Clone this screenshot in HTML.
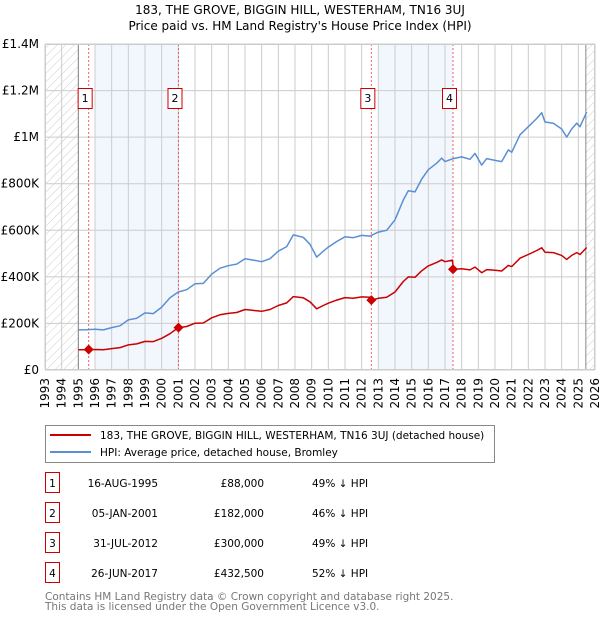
<!DOCTYPE html>
<html><head><meta charset="utf-8"><style>
body{margin:0;background:#fff;width:600px;height:620px;overflow:hidden}
svg text{font-family:"DejaVu Sans","Liberation Sans",sans-serif}
</style></head><body>
<svg id="c" width="600" height="620" xmlns="http://www.w3.org/2000/svg">
<defs><pattern id="hatch" width="6" height="6" patternUnits="userSpaceOnUse" patternTransform="rotate(45)"><line x1="0" y1="0" x2="0" y2="6" stroke="#ccc" stroke-width="1"/></pattern></defs>
<text x="300" y="14" text-anchor="middle" font-size="12">183, THE GROVE, BIGGIN HILL, WESTERHAM, TN16 3UJ</text>
<text x="300" y="30" text-anchor="middle" font-size="12">Price paid vs. HM Land Registry's House Price Index (HPI)</text>
<g id="plot"></g>
<g>
<rect x="45.5" y="425.5" width="449" height="37" fill="#fff" stroke="#888"/>
<line x1="50" y1="435" x2="91" y2="435" stroke="#cc0000" stroke-width="2"/>
<text x="100" y="439" font-size="10.5">183, THE GROVE, BIGGIN HILL, WESTERHAM, TN16 3UJ (detached house)</text>
<line x1="50" y1="452" x2="91" y2="452" stroke="#5b8fd4" stroke-width="2"/>
<text x="100" y="456" font-size="10.5">HPI: Average price, detached house, Bromley</text>
</g>
<g id="table" font-size="10.5"></g>
<text x="45" y="600" font-size="10.5" fill="#777">Contains HM Land Registry data © Crown copyright and database right 2025.</text>
<text x="45" y="610" font-size="10.5" fill="#777">This data is licensed under the Open Government Licence v3.0.</text>
</svg>
<script>
const hpiYears=[1995.0,1995.5,1996.0,1996.5,1997.0,1997.5,1998.0,1998.5,1999.0,1999.5,2000.0,2000.5,2001.0,2001.5,2002.0,2002.5,2003.0,2003.5,2004.0,2004.5,2005.0,2005.5,2006.0,2006.5,2007.0,2007.5,2007.9,2008.5,2008.9,2009.3,2009.7,2010.0,2010.5,2011.0,2011.5,2012.0,2012.5,2013.0,2013.5,2014.0,2014.5,2014.8,2015.2,2015.6,2016.0,2016.5,2016.8,2017.0,2017.5,2018.0,2018.5,2018.8,2019.2,2019.5,2020.0,2020.4,2020.8,2021.0,2021.5,2022.0,2022.5,2022.8,2023.0,2023.5,2024.0,2024.3,2024.6,2024.9,2025.1,2025.5];
const hpiValues=[172,173,175,172,182,190,215,222,245,242,270,310,335,345,370,372,412,437,448,455,478,472,465,478,510,530,580,570,540,485,510,528,552,572,568,578,575,592,600,645,730,770,765,820,860,888,910,895,908,915,905,930,880,908,900,895,945,935,1010,1045,1080,1105,1065,1060,1035,1000,1035,1060,1045,1108];
const ppYears=[1995.0,1995.5,1996.0,1996.5,1997.0,1997.5,1998.0,1998.5,1999.0,1999.5,2000.0,2000.5,2001.0,2001.5,2002.0,2002.5,2003.0,2003.5,2004.0,2004.5,2005.0,2005.5,2006.0,2006.5,2007.0,2007.5,2007.9,2008.5,2008.9,2009.3,2009.7,2010.0,2010.5,2011.0,2011.5,2012.0,2012.5,2012.58,2013.0,2013.5,2014.0,2014.5,2014.8,2015.2,2015.6,2016.0,2016.5,2016.8,2017.0,2017.45,2017.5,2018.0,2018.5,2018.8,2019.2,2019.5,2020.0,2020.4,2020.8,2021.0,2021.5,2022.0,2022.5,2022.8,2023.0,2023.5,2024.0,2024.3,2024.6,2024.9,2025.1,2025.5];
const ppValues=[87,87,88,87,92,96,108,112,123,122,136,156,182,187,201,202,224,237,243,247,260,256,252,260,277,288,315,310,293,263,277,287,300,311,308,314,312,300,308,312,335,380,400,398,426,447,462,473,465,472,432,435,430,442,418,431,428,425,449,444,480,496,513,525,506,504,492,475,492,504,496,526];
const saleYears=[1995.62,2001.01,2012.58,2017.48];
const salePrices=[88,182,300,432.5];
const saleDates=["16-AUG-1995","05-JAN-2001","31-JUL-2012","26-JUN-2017"];
const saleLabels=["£88,000","£182,000","£300,000","£432,500"];
const salePcts=["49% ↓ HPI","46% ↓ HPI","49% ↓ HPI","52% ↓ HPI"];
const yTicks=[0,200,400,600,800,1000,1200,1400];
const yTickLabels=["£0","£200K","£400K","£600K","£800K","£1M","£1.2M","£1.4M"];
const xTicks=[];for(let y=1993;y<=2026;y++)xTicks.push(y);

const X0=45,X1=595,Y0=370,Y1=44;
const xs=v=>X0+(v-1993)/(2026-1993)*(X1-X0);
const ys=v=>Y0-v/1400*(Y0-Y1);
const NS="http://www.w3.org/2000/svg";
const plot=document.getElementById('plot');
function mk(tag,attrs,parent){const e=document.createElementNS(NS,tag);for(const k in attrs)e.setAttribute(k,attrs[k]);(parent||plot).appendChild(e);return e;}

let h1=mk('rect',{x:X0,y:Y1,width:xs(1995)-X0,height:Y0-Y1,fill:'url(#hatch)'});


let h2=mk('rect',{x:xs(2025.45),y:Y1,width:X1-xs(2025.45),height:Y0-Y1,fill:'url(#hatch)'});


let b1=mk('rect',{x:xs(1996),y:Y1,width:xs(saleYears[1])-xs(1996),height:Y0-Y1,fill:'#f2f6fd'});


let b2=mk('rect',{x:xs(2013),y:Y1,width:xs(saleYears[3])-xs(2013),height:Y0-Y1,fill:'#f2f6fd'});


xTicks.forEach(t=>{
  let l=mk('line',{x1:xs(t),y1:Y1,x2:xs(t),y2:Y0,stroke:'#ccc','stroke-width':1});
  
  
  let tx=mk('text',{x:0,y:0,'font-size':12,'text-anchor':'end',transform:`translate(${xs(t)+4},378) rotate(-90)`});
  tx.textContent=t;
  
  
});
yTicks.forEach((t,i)=>{
  let l=mk('line',{x1:X0,y1:ys(t),x2:X1,y2:ys(t),stroke:'#ccc','stroke-width':1});
  
  
  let tx=mk('text',{x:39,y:ys(t)+4,'font-size':12,'text-anchor':'end'});
  tx.textContent=yTickLabels[i];
  
  
});
let ax=mk('line',{x1:xs(1995),y1:Y1,x2:xs(1995),y2:Y0,stroke:'#888'});


let ax2=mk('line',{x1:xs(2025.45),y1:Y1,x2:xs(2025.45),y2:Y0,stroke:'#888'});


saleYears.forEach((s,i)=>{
  let l=mk('line',{x1:xs(s),y1:Y1,x2:xs(s),y2:Y0,stroke:'#f06060','stroke-width':1,'stroke-dasharray':'2,2'});
  
  
});
function path(xa,va,col,name){
  let d=xa.map((x,i)=>(i?'L':'M')+xs(x).toFixed(1)+','+ys(va[i]).toFixed(1)).join('');
  let p=mk('path',{d:d,fill:'none',stroke:col,'stroke-width':1.5,'stroke-linejoin':'round'});
  
  
}
path(hpiYears,hpiValues,'#5b8fd4','hpi-line');
path(ppYears,ppValues,'#cc0000','price-paid-line');
saleYears.forEach((s,i)=>{
  let cx=xs(s),cy=ys(salePrices[i]);
  let m=mk('path',{d:`M${cx},${cy-5}L${cx+5},${cy}L${cx},${cy+5}L${cx-5},${cy}Z`,fill:'#cc0000'});
  
  
  let g=mk('g',{});
  
  
  mk('rect',{x:cx-10.5,y:88.5,width:14,height:20,fill:'#fff',stroke:'#cc0000'},g);
  let t=mk('text',{x:cx-3.5,y:102,'font-size':11,'text-anchor':'middle'},g);t.textContent=i+1;
});
let bd=mk('rect',{x:X0+0.5,y:Y1+0.5,width:X1-X0-1,height:Y0-Y1-1,fill:'none',stroke:'#ccc'});


const tb=document.getElementById('table');
saleYears.forEach((s,i)=>{
  const cy=483+i*30;
  let g=mk('g',{},tb);
  
  
  mk('rect',{x:45.5,y:cy-10.5,width:14,height:20,fill:'#fff',stroke:'#cc0000'},g);
  let a=mk('text',{x:52.5,y:cy+4,'text-anchor':'middle'},g);a.textContent=i+1;
  let b=mk('text',{x:158,y:cy+4,'text-anchor':'end'},g);b.textContent=saleDates[i];
  let c=mk('text',{x:264,y:cy+4,'text-anchor':'end'},g);c.textContent=saleLabels[i];
  let d=mk('text',{x:312,y:cy+4},g);d.textContent=salePcts[i];
});
</script>
</body></html>
